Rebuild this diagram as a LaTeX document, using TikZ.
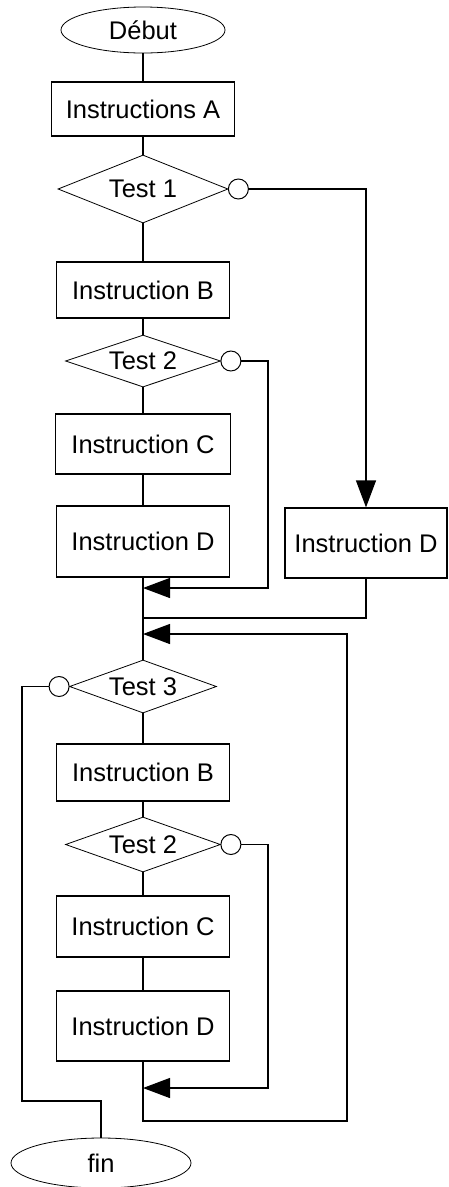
\documentclass[tikz,border=0pt]{standalone}
\usepackage{fontspec}
\setmainfont{Liberation Sans}
\usetikzlibrary{shapes.geometric,arrows.meta}

\tikzset{
  instr/.style={draw, line width=1.2pt, minimum width=173pt, minimum height=57pt,
    inner sep=0pt, font=\fontsize{25.5}{29}\selectfont},
  test/.style={draw, diamond, shape aspect=3, line width=0.8pt, inner sep=0pt,
    minimum width=155pt, minimum height=53pt, font=\fontsize{25.5}{29}\selectfont},
  term/.style={draw, ellipse, line width=0.8pt, inner sep=0pt,
    font=\fontsize{25.5}{29}\selectfont},
  nope/.style={draw, circle, fill=white, line width=1pt, minimum size=20pt, inner sep=0pt},
}

\begin{document}
\begin{tikzpicture}[x=1pt, y=-1pt, >={Triangle[length=27pt,width=20pt]}, line width=1.2pt]
    \useasboundingbox (0,0) rectangle (448,1187);
    % first block
    \node[term, minimum width=164pt, minimum height=46pt] (deb) at (143,30) {Début};
    \node[instr, minimum width=183pt, minimum height=54pt] (ia) at (143,109) {Instructions A};
    \node[test, minimum width=170pt, minimum height=68pt] (t1) at (143,189) {Test 1};
    \node[nope] (t1n) at ([xshift=10pt]t1.east) {};
    \node[instr, minimum height=56pt] (ib1) at (143,290) {Instruction B};
    \node[test, minimum height=52pt] (t2a) at (143,361) {Test 2};
    \node[nope] (t2an) at ([xshift=10pt]t2a.east) {};
    \node[instr, minimum width=175pt, minimum height=60pt] (ic1) at (143,444) {Instruction C};
    \node[instr, minimum height=71pt] (id1) at (143,541.5) {Instruction D};
    \node[instr, minimum width=162pt, minimum height=70pt] (id2) at (366,543) {Instruction D};
    % merge points
    \coordinate (m1) at (143,588);
    \coordinate (m2) at (143,618);
    \coordinate (m3) at (143,634);
    \coordinate (r1) at (268,588);
    % second block
    \node[test, minimum width=147pt] (t3) at (143,686.5) {Test 3};
    \node[nope] (t3n) at ([xshift=-10pt]t3.west) {};
    \node[instr] (ib2) at (143,772.5) {Instruction B};
    \node[test, minimum height=55pt] (t2b) at (143,844.5) {Test 2};
    \node[nope] (t2bn) at ([xshift=10pt]t2b.east) {};
    \node[instr, minimum height=61pt] (ic2) at (143,926.5) {Instruction C};
    \node[instr, minimum height=70pt] (id3) at (143,1026) {Instruction D};
    \node[term, minimum width=180pt, minimum height=50pt] (fin) at (101,1163) {fin};
    \coordinate (m4) at (143,1088);
    \coordinate (r3) at (268,1088);
    \coordinate (b2) at (143,1121);
    \coordinate (r2) at (347,634);
    \coordinate (lft) at (22,1101);

    \foreach \a/\b in {deb/ia, ia/t1, t1/ib1, ib1/t2a, t2a/ic1, ic1/id1,
                       t3/ib2, ib2/t2b, t2b/ic2, ic2/id3}
        \draw (\a.south) -- (\b.north);

    \draw[->] (t1n.east) -| (id2.north);
    \draw[->] (t2an.east) -| (r1) -- (m1);
    \draw (id1.south) -- (t3.north);
    \draw (id2.south) |- (m2);
    \draw[->] (t2bn.east) -| (r3) -- (m4);
    \draw[->] (id3.south) -- (b2) -| (r2) -- (m3);
    \draw (t3n.west) -| (lft) -| (fin.north);
\end{tikzpicture}
\end{document}
